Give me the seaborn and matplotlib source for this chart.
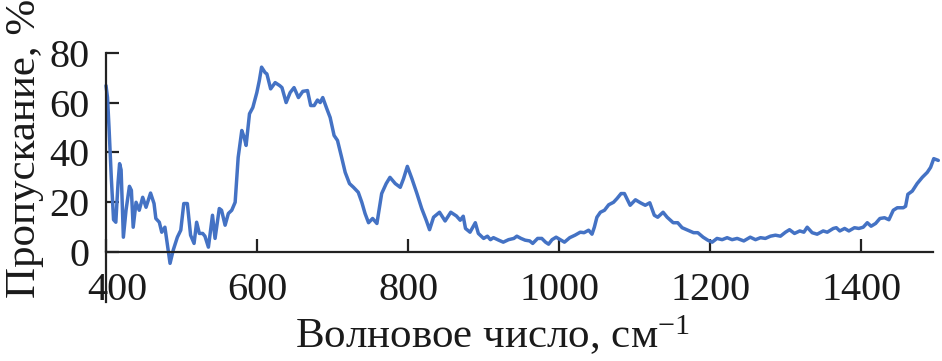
import matplotlib
matplotlib.use("Agg")
import matplotlib.pyplot as plt
from matplotlib.transforms import ScaledTranslation
import seaborn as sns
import pandas as pd

wavenumber = [400, 402, 404, 407, 410, 413, 416, 418, 420, 423, 426.5, 431, 433.6, 436, 439.8,
              444, 448.6, 453, 459, 463.6, 466, 470.6, 473.8, 478, 481, 484.8, 489, 494.5, 499,
              503, 507.7, 512, 516.6, 520, 523.6, 528, 531, 535.6, 541, 544.4, 550, 553, 557.7,
              562, 566.5, 571, 575, 579.8, 583, 585.5, 590, 594.4, 599.7, 603, 606, 610.7, 613,
              618, 624, 630, 633, 638.5, 643.8, 649, 654.8, 660.6, 666.8, 671, 675.6, 680, 683.6,
              687, 692.4, 696.8, 702, 706.5, 712, 716.7, 722.4, 727.7, 734, 738.7, 743, 747.6,
              753, 758.7, 765, 771, 776, 783, 789.6, 794, 799, 805, 811.7, 818, 824, 828.4, 833.7,
              841.6, 849, 856.5, 864, 869, 873, 876, 882, 889, 893, 900, 905, 909, 913, 920, 926,
              933, 940, 944, 949.5, 955, 961, 965, 971.5, 977, 982, 986, 990.6, 996, 1001.6, 1007,
              1014, 1021, 1028, 1033, 1039, 1043.5, 1046.6, 1050, 1054.6, 1060, 1065.6, 1072,
              1076.6, 1082, 1086.4, 1090.8, 1094, 1101, 1107.6, 1114, 1120, 1126, 1130.5, 1137.6,
              1143, 1151, 1157, 1162.8, 1170.4, 1178, 1183.6, 1190.6, 1196.8, 1202.6, 1209,
              1215.8, 1222.4, 1229, 1235.7, 1244.5, 1253, 1260, 1266.6, 1273, 1279.8, 1286.4,
              1293, 1299.7, 1305, 1311.6, 1318.6, 1324, 1328.4, 1335, 1341.6, 1349.6, 1355, 1363,
              1367, 1371.6, 1378, 1383.6, 1391, 1396.8, 1402.6, 1408, 1413, 1419, 1424.7, 1430.8,
              1436.6, 1442.4, 1447.7, 1455.6, 1458.7, 1461.7, 1467.6, 1474, 1480.8, 1487.4,
              1491.8, 1496, 1502]
transmittance = [66.8, 62, 50, 30, 13, 12, 28, 35.5, 33, 6, 16.8, 26.4, 24.8, 10, 20,
                 16.8, 22, 18, 23.7, 19.5, 13.5, 12, 8, 10, 3.5, -4.5, 0.8, 6, 8.8,
                 19.5, 19.5, 6.8, 3.5, 12, 7.5, 7.5, 6.4, 2, 14.8, 5.5, 17.5, 16.8, 10.8,
                 15.5, 16.8, 20, 38, 48.8, 46, 42.8, 55.5, 58, 64, 68.8, 74.2, 72, 71.5,
                 65.5, 68, 66.8, 66, 60, 64, 66, 62, 64.5, 64.8, 58.8, 58.8, 61, 60,
                 62, 57.5, 54, 46.8, 44.8, 38, 32, 27.5, 26, 24, 20, 15.5, 11.8,
                 13.5, 11.5, 23.5, 27.5, 30, 27.5, 26, 29.5, 34.4, 29.5, 23.5, 17.5, 12.8, 9, 14,
                 16, 12.5, 16, 14.5, 12.8, 14.4, 9.5, 8, 11.8, 7.5, 5.5, 6.4, 5, 5.8, 4.8, 4,
                 5, 5.5, 6.4, 5.5, 4.8, 4.5, 3.5, 5.5, 5.5, 4, 3.2, 5, 6, 5, 4,
                 5.8, 6.8, 8, 7.8, 8.8, 7.2, 10, 14, 16, 16.8, 19, 20,
                 21.5, 23.5, 23.5, 20.8, 18.8, 21, 19.8, 18.8, 19.8, 14.8, 14, 16,
                 14, 11.8, 11.8, 9.8, 8.8, 7.8, 7.8, 6, 4.8, 4, 5.5,
                 5, 5.8, 5, 5.5, 4.5, 6, 5, 5.8, 5.5, 6.4, 6.8,
                 6.4, 8, 9, 7.5, 8.5, 8, 10, 7.8, 7.2, 8.5, 8, 9.5,
                 9.8, 8.5, 9.5, 8.5, 9.8, 9.5, 10, 11.8, 10.4, 11.5, 13.5, 13.8,
                 13, 16.8, 17.8, 17.8, 18.4, 23.2, 24.5, 27.5, 30, 32,
                 34, 37.5, 36.8]
x_ticks = [400, 600, 800, 1000, 1200, 1400]
y_ticks = [0, 20, 40, 60, 80]
x_label = "Волновое число, см$^{-1}$"
y_label = "Пропускание, %"

sns.set_style("ticks")
plt.rcParams["font.family"] = ["Liberation Serif", "DejaVu Serif"]
plt.rcParams["mathtext.fontset"] = "custom"
plt.rcParams["mathtext.rm"] = "Liberation Serif"
plt.rcParams["mathtext.it"] = "Liberation Serif:italic"

df = pd.DataFrame({"wn": wavenumber, "T": transmittance})

fig = plt.figure(figsize=(9.42, 3.61), dpi=100)
ax = fig.add_axes([106 / 942, 1 - 302 / 361, (933 - 106) / 942, (302 - 52.7) / 361])
sns.lineplot(data=df, x="wn", y="T", ax=ax, color="#4472C4", linewidth=2.5,
             estimator=None, sort=False, clip_on=False)
ax.set_xlim(400, 1495)
ax.set_ylim(-20, 80)
ax.set_xticks(x_ticks)
ax.set_yticks(y_ticks)
ax.spines["top"].set_visible(False)
ax.spines["right"].set_visible(False)
ax.spines["bottom"].set_position(("data", 0))
for s in ("left", "bottom"):
    ax.spines[s].set_color("#222222")
    ax.spines[s].set_linewidth(1.6)
ax.tick_params(axis="both", direction="in", length=9.5, width=1.6, color="#222222",
               labelsize=29, labelcolor="#1a1a1a")
ax.tick_params(axis="x", pad=14.5)
ax.tick_params(axis="y", pad=12)
ax.set_xlabel("")
ax.set_ylabel("")
first = ax.get_xticklabels()[0]
first.set_transform(first.get_transform() + ScaledTranslation(11 / 100, 0, fig.dpi_scale_trans))
fig.text(492 / 942, 1 - 348 / 361, x_label, ha="center", va="baseline", fontsize=31,
         color="#1a1a1a")
fig.text(25 / 942, 1 - 148 / 361, y_label, ha="center", va="center", rotation=90,
         fontsize=31, color="#1a1a1a")
fig.savefig("out.png", dpi=100)
